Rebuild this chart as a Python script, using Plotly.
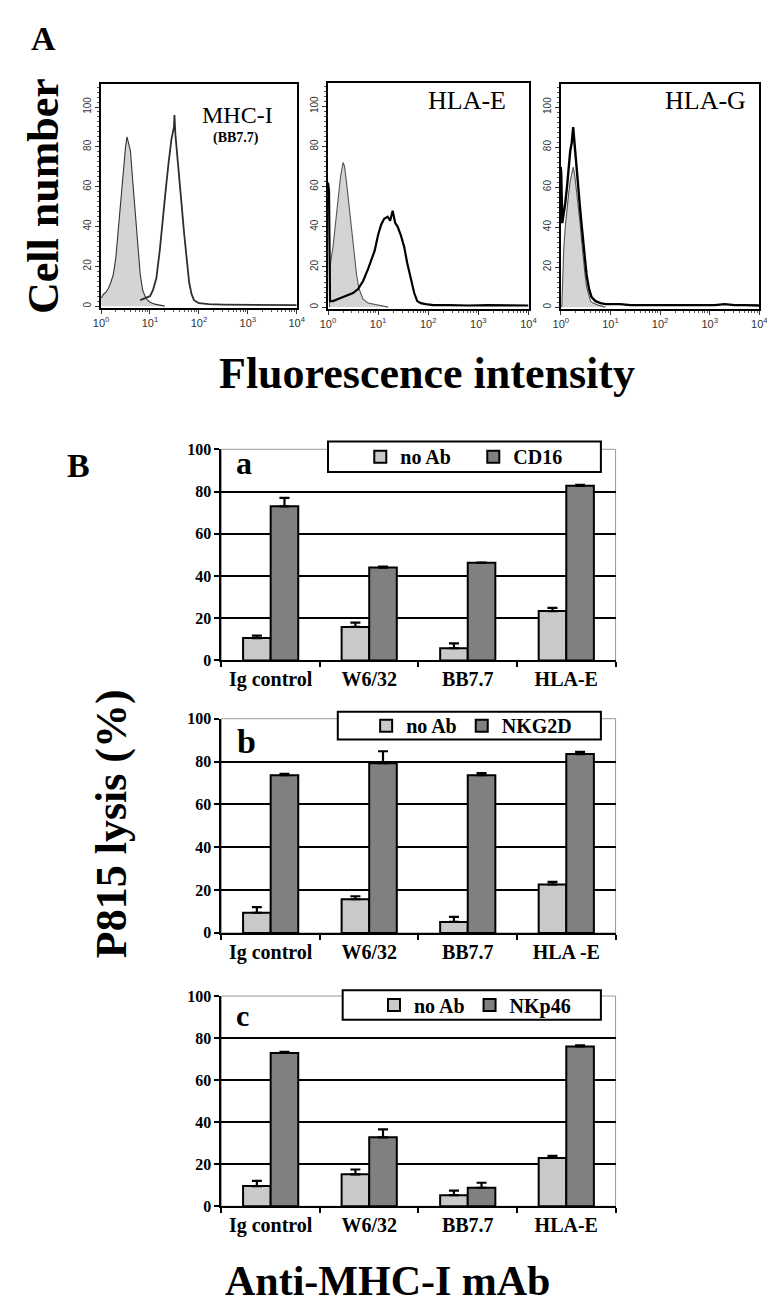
import plotly.graph_objects as go
import numpy as np

W, H = 775, 1304

# ---------------- Panel A: flow cytometry histograms (x in log10 decades) ----------------
h1_ctrl_dec = [0, 0.05, 0.1, 0.15, 0.2, 0.25, 0.3, 0.35, 0.4, 0.45, 0.5, 0.53, 0.56, 0.6, 0.65, 0.7, 0.75, 0.8, 0.85, 0.9, 0.95, 1.0, 1.1, 1.3]
h1_ctrl_y = [4, 6, 7, 9, 12, 16, 24, 38, 52, 68, 80, 85, 82, 78, 62, 45, 28, 16, 8, 5, 3, 2, 1, 0]
h1_stain_dec = [0.8, 0.9, 1.0, 1.06, 1.13, 1.2, 1.26, 1.32, 1.38, 1.44, 1.49, 1.5, 1.52, 1.56, 1.6, 1.65, 1.7, 1.75, 1.8, 1.85, 1.9, 2.0, 2.2, 2.5, 3.0, 3.5, 4.0]
h1_stain_y = [3, 4, 5, 8, 14, 28, 45, 58, 72, 84, 90, 96, 86, 76, 64, 50, 36, 24, 12, 6, 3, 1.5, 1, 0.8, 0.6, 0.6, 0.5]

h2_ctrl_dec = [0.03, 0.05, 0.1, 0.15, 0.2, 0.25, 0.3, 0.33, 0.37, 0.42, 0.47, 0.52, 0.57, 0.62, 0.7, 0.8, 0.9, 1.0, 1.2]
h2_ctrl_y = [0, 22, 30, 42, 55, 65, 72, 70, 62, 50, 38, 26, 16, 9, 4, 2, 1.5, 1, 0]
h2_stain_dec = [0.0, 0.02, 0.04, 0.1, 0.2, 0.3, 0.4, 0.5, 0.6, 0.7, 0.8, 0.87, 0.93, 1.0, 1.06, 1.12, 1.19, 1.24, 1.29, 1.34, 1.39, 1.45, 1.52, 1.58, 1.65, 1.72, 1.78, 1.85, 1.95, 2.1, 2.4, 2.8, 3.2, 3.6, 4.0]
h2_stain_y = [62, 58, 3, 3, 4, 5, 6, 7, 9, 13, 19, 24, 28, 36, 41, 44, 45, 43, 48, 42, 40, 36, 30, 22, 14, 7, 3, 2, 1.5, 1, 1, 0.8, 1, 0.8, 0.8]

h3_ctrl_dec = [0.02, 0.04, 0.06, 0.09, 0.125, 0.16, 0.19, 0.22, 0.25, 0.28, 0.32, 0.36, 0.39, 0.42, 0.45, 0.49, 0.52, 0.56, 0.6, 0.65, 0.75, 0.9]
h3_ctrl_y = [0, 22, 29, 40, 50, 57, 63, 67, 70, 66, 58, 49, 42, 33, 24, 16, 10, 6, 3, 2, 1, 0]
h3_stain_dec = [0.0, 0.01, 0.03, 0.06, 0.09, 0.125, 0.16, 0.19, 0.22, 0.25, 0.27, 0.3, 0.33, 0.36, 0.39, 0.42, 0.45, 0.49, 0.52, 0.57, 0.62, 0.7, 0.8, 0.9, 1.0, 1.2, 1.4, 1.6, 1.9, 2.2, 2.5, 2.8, 3.1, 3.3, 3.5, 3.7, 4.0]
h3_stain_y = [70, 66, 42, 46, 52, 60, 70, 78, 82, 90, 84, 74, 64, 56, 49, 41, 33, 24, 16, 9, 5, 3, 2, 1.5, 1.5, 1.5, 1, 1, 1.2, 1, 1, 1, 1, 1.5, 1, 1, 0.8]

hist_labels = ["MHC-I", "HLA-E", "HLA-G"]
hist_yticks = [0, 20, 40, 60, 80, 100]
hist_xtickvals = [1, 10, 100, 1000, 10000]
hist_xticktext = ["10<sup>0</sup>", "10<sup>1</sup>", "10<sup>2</sup>", "10<sup>3</sup>", "10<sup>4</sup>"]

# ---------------- Panel B: P815 lysis bar charts ----------------
cats_a = ["Ig control", "W6/32", "BB7.7", "HLA-E"]
cats_b = ["Ig control", "W6/32", "BB7.7", "HLA -E"]
cats_c = ["Ig control", "W6/32", "BB7.7", "HLA-E"]

noab_a = [10.6, 15.9, 5.8, 23.4]
noab_a_err = [1.2, 2.0, 2.3, 1.5]
cd16 = [73.0, 44.0, 46.3, 82.7]
cd16_err = [4.0, 0.5, 0.0, 0.5]

noab_b = [9.4, 15.7, 5.1, 22.6]
noab_b_err = [2.6, 1.4, 2.4, 1.2]
nkg2d = [73.6, 79.2, 73.6, 83.5]
nkg2d_err = [0.7, 5.6, 1.0, 1.0]

noab_c = [9.6, 15.2, 5.3, 23.0]
noab_c_err = [2.5, 2.3, 2.1, 1.0]
nkp46 = [72.9, 32.8, 8.8, 76.0]
nkp46_err = [0.5, 3.8, 2.4, 0.5]

bar_yticks = [0, 20, 40, 60, 80, 100]

# ---------------- helpers ----------------
def px_x(a):
    return a / W

def px_y(b):
    return 1 - b / H

def dom_x(a, b):
    return [a / W, b / W]

def dom_y(top, bottom):
    return [1 - bottom / H, 1 - top / H]

SERIF = "Liberation Serif"
SANS = "Liberation Sans"
LIGHT = "#c9c9c9"
DARK = "#808080"

fig = go.Figure()

# ---- histograms ----
hists = [
    (h1_ctrl_dec, h1_ctrl_y, h1_stain_dec, h1_stain_y, "#2e2e2e", 1.8),
    (h2_ctrl_dec, h2_ctrl_y, h2_stain_dec, h2_stain_y, "#000000", 2.2),
    (h3_ctrl_dec, h3_ctrl_y, h3_stain_dec, h3_stain_y, "#000000", 2.4),
]
for i, (cd, cy, sd, sy, scol, sw) in enumerate(hists):
    ax = "" if i == 0 else str(i + 1)
    fig.add_trace(go.Scatter(
        x=10 ** np.array(cd), y=cy, mode="lines", fill="tozeroy",
        fillcolor="#d4d4d4", line=dict(color="#555555" if i else "#333333", width=1.1),
        showlegend=False, xaxis="x" + ax, yaxis="y" + ax, hoverinfo="skip"))
    fig.add_trace(go.Scatter(
        x=10 ** np.array(sd), y=sy, mode="lines",
        line=dict(color=scol, width=sw),
        showlegend=False, xaxis="x" + ax, yaxis="y" + ax, hoverinfo="skip"))

hist_dom_x = [dom_x(87, 287), dom_x(319, 524), dom_x(557, 760)]
hist_dom_y = [dom_y(69, 296), dom_y(68, 297), dom_y(69, 297)]
minor_vals = [m * 10 ** e for e in range(4) for m in range(2, 10)]

layout = dict(
    width=W, height=H, margin=dict(l=0, r=0, t=0, b=0),
    paper_bgcolor="white", plot_bgcolor="white",
)

for i in range(3):
    ax = "" if i == 0 else str(i + 1)
    layout["xaxis" + ax] = dict(
        domain=hist_dom_x[i], anchor="y" + ax, type="log", range=[0, 4],
        showline=True, linecolor="black", linewidth=1.5, mirror=True,
        showgrid=False, zeroline=False,
        tickmode="array", tickvals=hist_xtickvals, ticktext=hist_xticktext,
        ticks="outside", ticklen=4, tickcolor="#333",
        minor=dict(tickmode="array", tickvals=minor_vals, ticks="outside", ticklen=2, tickcolor="#555"),
        tickfont=dict(family=SANS, size=11, color="#333"),
    )
    layout["yaxis" + ax] = dict(
        domain=hist_dom_y[i], anchor="x" + ax, range=[-1, 111.5],
        showline=True, linecolor="black", linewidth=1.5, mirror=True,
        showgrid=False, zeroline=False,
        tickmode="array", tickvals=hist_yticks, ticks="outside", ticklen=4, tickcolor="#333",
        minor=dict(dtick=2.5, ticks="outside", ticklen=2, tickcolor="#555"),
        tickangle=-90, tickfont=dict(family=SANS, size=10, color="#333"),
    )

# ---- bar charts ----
bar_sets = [
    (cats_a, noab_a, noab_a_err, cd16, cd16_err, "CD16", "legend"),
    (cats_b, noab_b, noab_b_err, nkg2d, nkg2d_err, "NKG2D", "legend2"),
    (cats_c, noab_c, noab_c_err, nkp46, nkp46_err, "NKp46", "legend3"),
]
bar_dom_y = [dom_y(439, 653), dom_y(712, 929), dom_y(993, 1206)]
for j, (cats, v1, e1, v2, e2, name2, lg) in enumerate(bar_sets):
    n = str(j + 4)
    for vals, errs, name, col in [(v1, e1, "no Ab", LIGHT), (v2, e2, name2, DARK)]:
        fig.add_trace(go.Bar(
            x=cats, y=vals, name=name, legend=lg,
            marker=dict(color=col, line=dict(color="black", width=2)),
            error_y=dict(type="data", symmetric=False, array=errs, arrayminus=[0] * len(errs),
                         color="black", thickness=2.2, width=5),
            xaxis="x" + n, yaxis="y" + n, hoverinfo="skip"))
    layout["xaxis" + n] = dict(
        domain=dom_x(210, 613), anchor="y" + n, type="category",
        showline=True, linecolor="black", linewidth=2, showgrid=False, zeroline=False,
        ticks="outside", tickson="boundaries", ticklen=5, tickwidth=2, tickcolor="black",
        tickfont=dict(family=SERIF, size=20, color="black", weight="bold"),
    )
    layout["yaxis" + n] = dict(
        domain=bar_dom_y[j], anchor="x" + n, range=[0, 100],
        showline=True, linecolor="black", linewidth=2,
        showgrid=True, gridcolor="black", gridwidth=1.8, zeroline=False,
        tickmode="array", tickvals=bar_yticks, ticks="outside", ticklen=5, tickwidth=2, tickcolor="black",
        tickfont=dict(family=SERIF, size=16, color="black", weight="bold"),
    )

layout["barmode"] = "group"
layout["bargap"] = 0.44
layout["bargroupgap"] = 0.0

# legends (one per bar chart)
legend_pos = [(352, 446.5, 68), (358, 719, None), (366, 1002, None)]
for j, key in enumerate(["legend", "legend2", "legend3"]):
    lx, ly, ew = legend_pos[j]
    lg = dict(
        orientation="h", x=px_x(lx), y=px_y(ly), xanchor="left", yanchor="middle",
        bgcolor="rgba(0,0,0,0)", borderwidth=0,
        font=dict(family=SERIF, size=20, color="black", weight="bold"),
        traceorder="normal",
    )
    if ew:
        lg["entrywidth"] = ew
        lg["entrywidthmode"] = "pixels"
    layout[key] = lg

shapes = []
for j in range(3):
    n = str(j + 4)
    shapes.append(dict(type="rect", xref="x" + n + " domain", yref="y" + n + " domain",
                       x0=0, x1=1, y0=0, y1=1, line=dict(color="#9a9a9a", width=1), layer="below"))
legend_boxes = [(319, 598, 431, 462), (329, 598, 705, 733), (334, 598, 987, 1017)]
for (x0, x1, y0, y1) in legend_boxes:
    shapes.append(dict(type="rect", xref="paper", yref="paper",
                       x0=px_x(x0), x1=px_x(x1), y0=px_y(y1), y1=px_y(y0),
                       line=dict(color="black", width=2), fillcolor="white", layer="above"))
layout["shapes"] = shapes


def ann(text, x, y, size, bold=True, angle=0, family=SERIF):
    return dict(text=text, x=px_x(x), y=px_y(y), xref="paper", yref="paper",
                xanchor="center", yanchor="middle", showarrow=False, textangle=angle,
                font=dict(family=family, size=size, color="black", weight="bold" if bold else "normal"))

layout["annotations"] = [
    ann("A", 28, 23, 34),
    ann("Cell number", 28, 182, 44, angle=-90),
    ann("Fluorescence intensity", 420, 362, 44),
    ann(hist_labels[0], 226, 100, 24, bold=False),
    ann("(BB7.7)", 225, 124, 14),
    ann(hist_labels[1], 461, 86, 26, bold=False),
    ann(hist_labels[2], 705, 86, 26, bold=False),
    ann("B", 64, 455, 34),
    ann("P815 lysis (%)", 97, 818, 44, angle=-90),
    ann("a", 233, 453, 32),
    ann("b", 236, 735, 34),
    ann("c", 232, 1013, 30),
    ann("Anti-MHC-I mAb", 380, 1282, 42),
]

fig.update_layout(**layout)
fig.write_html("out.html")
